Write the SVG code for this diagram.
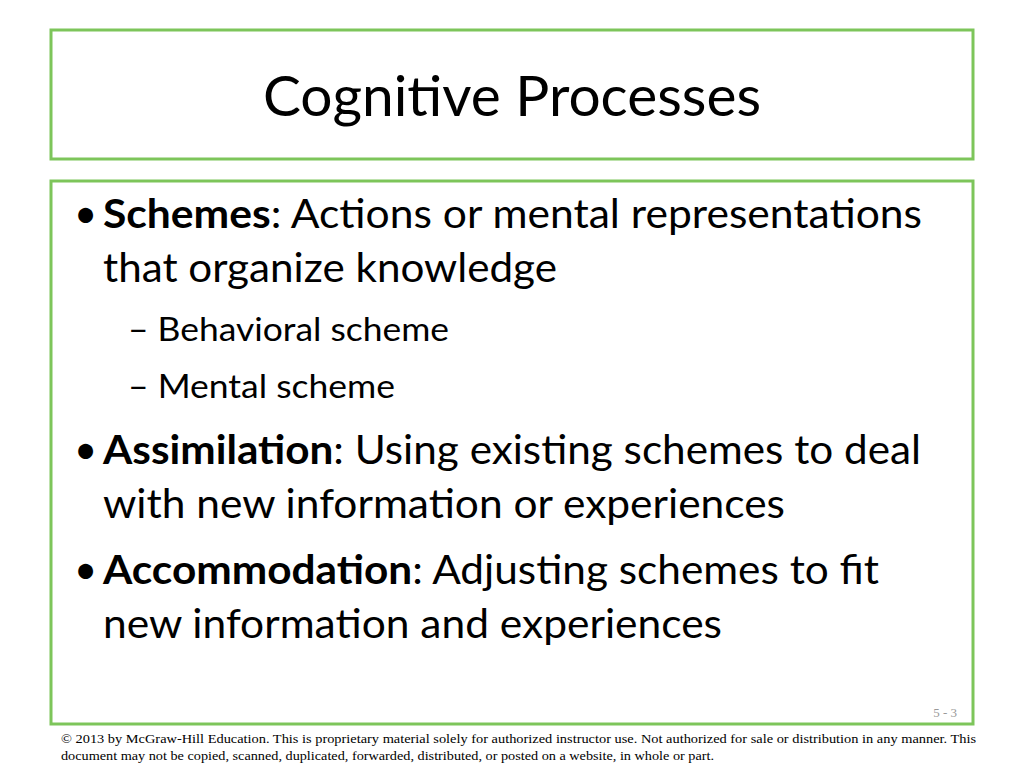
<svg xmlns="http://www.w3.org/2000/svg" width="1024" height="768" viewBox="0 0 1024 768">
<style>
.box{fill:#fff;stroke:#7dc55a;stroke-width:3}
.t{font-family:Lato,"Open Sans",sans-serif;fill:#000}
.b{font-size:40px}
.s{font-size:32px}
.f{font-family:"Liberation Serif",serif;font-size:13.5px;fill:#000}
</style>
<rect width="1024" height="768" fill="#fff"/>
<g id="title"><rect class="box" x="51" y="30" width="922" height="129"/>
<text class="t" x="263" y="116" font-size="56" textLength="498" lengthAdjust="spacingAndGlyphs">Cognitive Processes</text></g>
<g id="body"><rect class="box" x="51" y="181" width="922" height="543"/>
<g class="t b">
<text x="74" y="228">•</text><text x="103" y="228" textLength="819" lengthAdjust="spacingAndGlyphs"><tspan font-weight="bold">Schemes</tspan>: Actions or mental representations</text>
<text x="103" y="282" textLength="454" lengthAdjust="spacingAndGlyphs">that organize knowledge</text>
<text x="74" y="464">•</text><text x="103" y="464" textLength="818" lengthAdjust="spacingAndGlyphs"><tspan font-weight="bold">Assimilation</tspan>: Using existing schemes to deal</text>
<text x="103" y="518" textLength="682" lengthAdjust="spacingAndGlyphs">with new information or experiences</text>
<text x="74" y="584">•</text><text x="103" y="584" textLength="776" lengthAdjust="spacingAndGlyphs"><tspan font-weight="bold">Accommodation</tspan>: Adjusting schemes to fit</text>
<text x="103" y="638" textLength="619" lengthAdjust="spacingAndGlyphs">new information and experiences</text>
</g>
<g class="t s">
<text x="128" y="341" textLength="321" lengthAdjust="spacingAndGlyphs">– Behavioral scheme</text>
<text x="128" y="398" textLength="267" lengthAdjust="spacingAndGlyphs">– Mental scheme</text>
</g>
<text x="957" y="717" font-family="Liberation Serif,serif" font-size="13" fill="#999" text-anchor="end">5 - 3</text>
</g>
<g id="footer">
<text class="f" x="61" y="743" textLength="915" lengthAdjust="spacingAndGlyphs">© 2013 by McGraw-Hill Education.  This is proprietary material solely for authorized instructor use. Not authorized for sale or distribution in any manner.  This</text>
<text class="f" x="61" y="760" textLength="653" lengthAdjust="spacingAndGlyphs">document may not be copied, scanned, duplicated, forwarded, distributed, or posted on a website, in whole or part.</text>
</g>
</svg>
